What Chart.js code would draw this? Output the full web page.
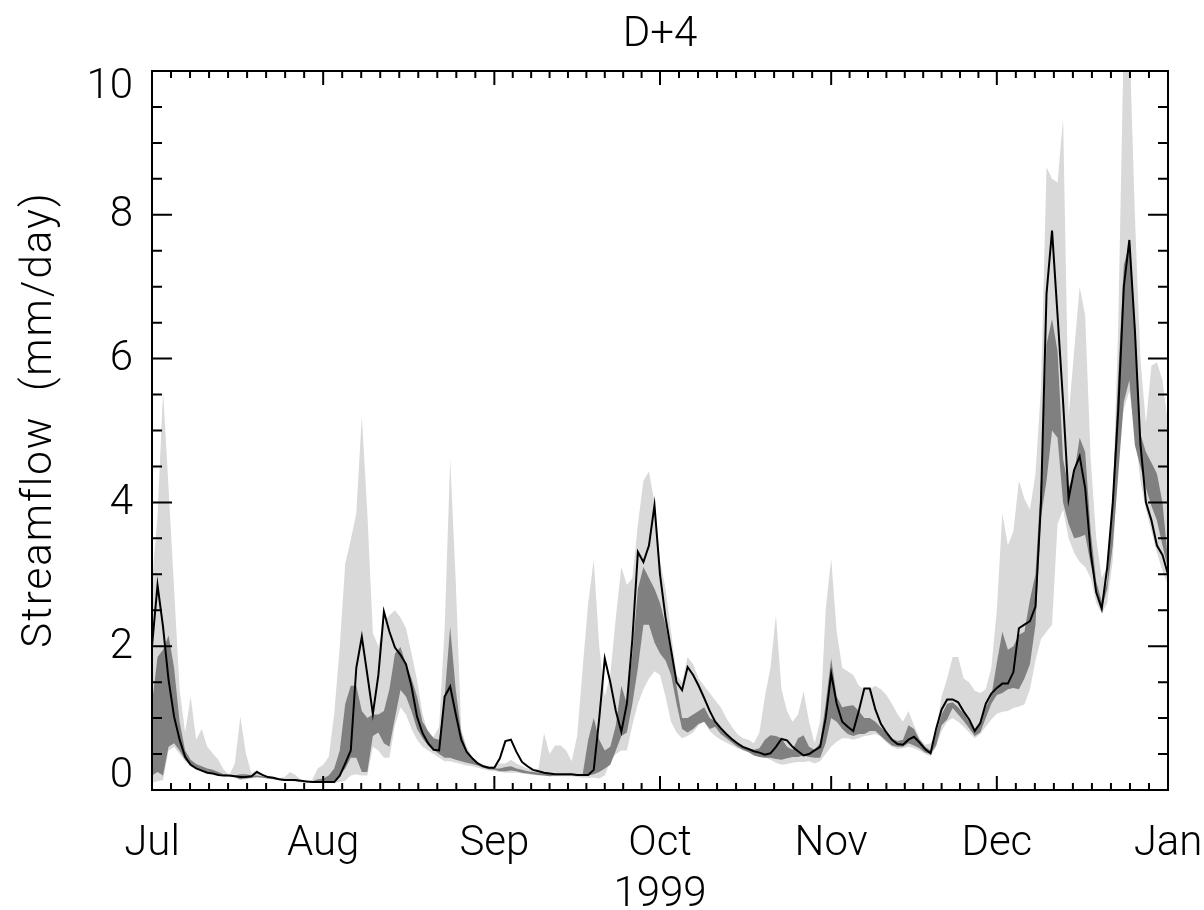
<!DOCTYPE html>
<html>
<head>
<meta charset="utf-8">
<title>D+4 streamflow</title>
<script src="https://cdn.jsdelivr.net/npm/chart.js@4.4.0/dist/chart.umd.min.js"></script>
<style>
  html, body { margin: 0; padding: 0; background: #ffffff; }
  #wrap { width: 1204px; height: 910px; }
</style>
</head>
<body>
<div id="wrap"><canvas id="chart" width="1204" height="910"></canvas></div>
<script>
// Day index 0 = 1 Jul 1999, 184 = 1 Jan 2000
const monthStarts = [0, 31, 62, 92, 123, 153, 184];
const monthLabels = ['Jul', 'Aug', 'Sep', 'Oct', 'Nov', 'Dec', 'Jan'];
const yTickValues = [0, 2, 4, 6, 8, 10];
const chartTitle = 'D+4';
const xTitle = '1999';
const yTitle = 'Streamflow  (mm/day)';

// Observed streamflow (mm/day)
const observed = [
  2.00, 2.85, 2.27, 1.53, 1.02, 0.70, 0.46, 0.35, 0.30, 0.27,
  0.24, 0.23, 0.21, 0.20, 0.20, 0.19, 0.18, 0.18, 0.19, 0.25,
  0.21, 0.18, 0.17, 0.15, 0.14, 0.14, 0.14, 0.13, 0.12, 0.11,
  0.11, 0.11, 0.11, 0.11, 0.20, 0.37, 0.55, 1.70, 2.13, 1.60,
  1.06, 1.60, 2.48, 2.20, 1.98, 1.88, 1.75, 1.44, 1.02, 0.79,
  0.65, 0.56, 0.55, 1.30, 1.44, 1.06, 0.70, 0.53, 0.44, 0.37,
  0.33, 0.31, 0.31, 0.44, 0.68, 0.70, 0.53, 0.39, 0.33, 0.28,
  0.26, 0.24, 0.23, 0.22, 0.22, 0.22, 0.22, 0.21, 0.21, 0.21,
  0.28, 1.00, 1.83, 1.50, 1.10, 0.81, 1.20, 2.10, 3.31, 3.17,
  3.40, 3.96, 3.00, 2.40, 1.95, 1.50, 1.39, 1.71, 1.60, 1.45,
  1.28, 1.10, 0.95, 0.86, 0.78, 0.71, 0.65, 0.60, 0.57, 0.54,
  0.52, 0.49, 0.51, 0.60, 0.71, 0.69, 0.60, 0.54, 0.48, 0.50,
  0.55, 0.60, 1.00, 1.62, 1.20, 0.95, 0.88, 0.82, 1.10, 1.41,
  1.41, 1.12, 0.92, 0.80, 0.70, 0.64, 0.63, 0.70, 0.74, 0.66,
  0.57, 0.51, 0.85, 1.12, 1.26, 1.26, 1.22, 1.09, 0.98, 0.82,
  0.93, 1.20, 1.34, 1.42, 1.48, 1.48, 1.64, 2.25, 2.30, 2.35,
  2.55, 4.00, 6.90, 7.78, 6.60, 5.40, 4.05, 4.45, 4.64, 4.20,
  3.30, 2.75, 2.52, 3.10, 4.00, 5.30, 7.00, 7.65, 6.40, 4.82,
  4.00, 3.75, 3.40, 3.27, 3.00
];

// Ensemble forecast envelope: maximum member
const ensMax = [
  2.90, 3.80, 5.55, 4.20, 2.80, 1.40, 0.80, 1.30, 0.70, 0.85,
  0.60, 0.51, 0.42, 0.28, 0.21, 0.37, 1.02, 0.51, 0.23, 0.28,
  0.21, 0.18, 0.17, 0.16, 0.18, 0.25, 0.21, 0.14, 0.12, 0.14,
  0.30, 0.35, 0.46, 1.06, 1.99, 3.15, 3.48, 3.85, 5.20, 3.85,
  2.18, 2.00, 2.33, 2.43, 2.50, 2.40, 2.25, 1.90, 1.53, 1.06,
  0.79, 0.74, 0.88, 2.25, 4.60, 2.92, 0.84, 0.60, 0.46, 0.39,
  0.35, 0.33, 0.33, 0.37, 0.37, 0.42, 0.37, 0.33, 0.30, 0.28,
  0.30, 0.79, 0.50, 0.62, 0.62, 0.55, 0.40, 0.75, 1.70, 2.60,
  3.20, 2.00, 1.30, 1.60, 2.40, 3.10, 2.85, 2.95, 3.70, 4.30,
  4.43, 4.00, 3.20, 2.80, 2.20, 1.60, 1.50, 1.85, 1.75, 1.55,
  1.45, 1.35, 1.25, 1.15, 1.00, 0.88, 0.78, 0.72, 0.70, 0.65,
  0.80, 1.30, 1.70, 2.43, 1.40, 1.10, 0.95, 1.05, 1.37, 0.95,
  0.65, 0.95, 2.50, 3.22, 2.20, 1.70, 1.65, 1.60, 1.45, 1.40,
  1.40, 1.45, 1.40, 1.32, 1.20, 1.06, 0.95, 1.10, 0.90, 0.72,
  0.63, 0.65, 0.80, 1.30, 1.55, 1.85, 1.85, 1.55, 1.50, 1.38,
  1.35, 1.40, 1.70, 2.50, 3.85, 3.40, 3.60, 4.30, 4.05, 3.90,
  4.40, 5.60, 8.66, 8.50, 8.45, 9.34, 5.20, 6.10, 7.00, 6.60,
  4.60, 3.50, 2.95, 3.10, 4.00, 6.50, 10.50, 10.50, 8.00, 6.00,
  5.10, 5.90, 5.95, 5.70, 5.10
];

// Ensemble forecast envelope: minimum member
const ensMin = [
  0.10, 0.12, 0.14, 0.55, 0.60, 0.50, 0.40, 0.33, 0.29, 0.26,
  0.24, 0.22, 0.20, 0.19, 0.18, 0.17, 0.14, 0.15, 0.16, 0.17,
  0.17, 0.16, 0.15, 0.14, 0.13, 0.13, 0.12, 0.11, 0.10, 0.10,
  0.10, 0.10, 0.10, 0.10, 0.11, 0.13, 0.20, 0.22, 0.20, 0.20,
  0.60, 0.55, 0.45, 0.45, 0.90, 1.15, 1.05, 0.85, 0.70, 0.60,
  0.55, 0.50, 0.45, 0.40, 0.40, 0.38, 0.36, 0.34, 0.33, 0.31,
  0.29, 0.27, 0.26, 0.25, 0.24, 0.24, 0.24, 0.23, 0.22, 0.21,
  0.20, 0.20, 0.19, 0.19, 0.19, 0.19, 0.19, 0.18, 0.17, 0.17,
  0.17, 0.16, 0.20, 0.40, 0.50, 0.55, 0.55, 0.90, 1.20, 1.40,
  1.55, 1.65, 1.60, 1.30, 0.95, 0.80, 0.72, 0.75, 0.80, 0.90,
  0.95, 0.82, 0.75, 0.70, 0.66, 0.62, 0.58, 0.55, 0.52, 0.50,
  0.49, 0.46, 0.42, 0.38, 0.35, 0.36, 0.38, 0.39, 0.39, 0.40,
  0.37, 0.40, 0.50, 0.60, 0.67, 0.72, 0.72, 0.70, 0.72, 0.75,
  0.76, 0.78, 0.74, 0.66, 0.60, 0.57, 0.58, 0.60, 0.58, 0.55,
  0.50, 0.47, 0.60, 0.82, 0.95, 1.00, 0.95, 0.88, 0.80, 0.72,
  0.78, 0.88, 0.98, 1.06, 1.09, 1.10, 1.14, 1.16, 1.19, 1.40,
  1.80, 2.10, 2.20, 2.30, 3.70, 3.90, 3.50, 3.30, 3.17, 3.10,
  2.95, 2.60, 2.45, 2.60, 3.20, 4.70, 5.30, 5.55, 5.00, 4.30,
  3.90, 3.60, 3.30, 3.05, 2.85
];

// Ensemble inter-quartile range: upper quartile
const q75 = [
  1.20, 1.85, 1.95, 2.15, 1.70, 0.95, 0.55, 0.42, 0.36, 0.33,
  0.30, 0.28, 0.25, 0.22, 0.21, 0.20, 0.22, 0.22, 0.20, 0.20,
  0.19, 0.18, 0.17, 0.16, 0.15, 0.15, 0.14, 0.13, 0.12, 0.12,
  0.15, 0.16, 0.20, 0.30, 0.55, 1.20, 1.45, 1.45, 1.10, 1.00,
  1.05, 1.05, 1.10, 1.40, 1.90, 1.99, 1.75, 1.55, 1.30, 0.95,
  0.82, 0.72, 0.70, 1.30, 2.27, 1.40, 0.80, 0.55, 0.45, 0.38,
  0.34, 0.32, 0.30, 0.30, 0.32, 0.33, 0.30, 0.28, 0.26, 0.25,
  0.24, 0.23, 0.22, 0.22, 0.22, 0.22, 0.22, 0.22, 0.22, 0.70,
  1.00, 0.70, 0.55, 0.60, 0.90, 1.45, 1.20, 1.90, 2.80, 3.10,
  2.95, 2.80, 2.60, 2.30, 1.90, 1.45, 1.00, 1.00, 1.05, 1.10,
  1.15, 1.00, 0.96, 0.87, 0.79, 0.72, 0.66, 0.61, 0.58, 0.56,
  0.58, 0.70, 0.76, 0.75, 0.72, 0.60, 0.56, 0.72, 0.76, 0.60,
  0.56, 0.65, 1.20, 1.83, 1.30, 1.15, 1.17, 1.18, 1.10, 1.00,
  1.00, 0.95, 0.87, 0.80, 0.72, 0.68, 0.70, 0.90, 0.85, 0.70,
  0.60, 0.55, 0.80, 1.05, 1.20, 1.22, 1.15, 1.06, 0.95, 0.85,
  0.95, 1.15, 1.30, 1.77, 2.20, 1.95, 2.00, 2.16, 2.20, 2.65,
  3.00, 4.30, 6.20, 6.55, 6.10, 4.60, 4.20, 4.40, 4.90, 4.70,
  3.60, 2.90, 2.62, 2.90, 4.10, 5.80, 7.30, 7.60, 6.40, 4.95,
  4.70, 4.55, 4.40, 4.00, 3.20
];

// Ensemble inter-quartile range: lower quartile
const q25 = [
  0.20, 0.25, 0.20, 0.60, 0.65, 0.55, 0.42, 0.34, 0.30, 0.27,
  0.25, 0.23, 0.21, 0.20, 0.19, 0.18, 0.15, 0.16, 0.17, 0.18,
  0.17, 0.16, 0.15, 0.14, 0.13, 0.13, 0.12, 0.11, 0.10, 0.10,
  0.11, 0.11, 0.11, 0.12, 0.20, 0.30, 0.45, 0.45, 0.25, 0.25,
  0.75, 0.80, 0.65, 0.60, 1.00, 1.39, 1.30, 1.10, 0.85, 0.72,
  0.62, 0.56, 0.50, 0.45, 0.45, 0.42, 0.40, 0.38, 0.36, 0.34,
  0.31, 0.29, 0.28, 0.26, 0.26, 0.27, 0.26, 0.24, 0.23, 0.22,
  0.21, 0.20, 0.19, 0.20, 0.20, 0.20, 0.20, 0.20, 0.20, 0.20,
  0.22, 0.25, 0.30, 0.35, 0.55, 0.75, 0.80, 1.20, 1.70, 2.30,
  2.30, 2.05, 1.90, 1.80, 1.60, 1.20, 0.85, 0.80, 0.85, 0.92,
  0.95, 0.85, 0.88, 0.78, 0.72, 0.66, 0.60, 0.56, 0.53, 0.48,
  0.46, 0.45, 0.45, 0.43, 0.42, 0.44, 0.46, 0.46, 0.48, 0.46,
  0.45, 0.45, 0.65, 1.00, 0.95, 0.85, 0.78, 0.75, 0.78, 0.78,
  0.82, 0.82, 0.75, 0.68, 0.62, 0.60, 0.60, 0.65, 0.62, 0.58,
  0.52, 0.50, 0.62, 0.90, 0.98, 1.14, 1.05, 0.96, 0.86, 0.75,
  0.80, 1.00, 1.20, 1.32, 1.35, 1.40, 1.42, 1.40, 1.55, 1.75,
  2.30, 3.80, 4.30, 5.00, 4.90, 4.00, 3.70, 3.50, 3.52, 3.55,
  3.14, 2.80, 2.52, 2.80, 3.40, 4.40, 5.40, 5.70, 4.80, 4.50,
  4.20, 3.95, 3.75, 3.40, 3.07
];

const FONT_FAMILY = 'Roboto, "DejaVu Sans", sans-serif';
const FONT_WEIGHT = '300';
const FONT_SIZE = 42;
const FONT_CSS = FONT_WEIGHT + ' ' + FONT_SIZE + 'px ' + FONT_FAMILY;

const toPoints = arr => arr.map((v, i) => ({ x: i, y: v }));

// Box frame, inward tick marks on all four sides, y labels kept inside the axis span,
// and the spaced-out vertical axis title
const framePlugin = {
  id: 'idlFrame',
  afterDraw(chart) {
    const { ctx, chartArea: a, scales } = chart;
    const xs = scales.x, ys = scales.y;
    ctx.save();
    ctx.strokeStyle = '#000';
    ctx.lineWidth = 2;
    ctx.lineCap = 'butt';
    ctx.beginPath();
    const xMajor = 14, xMinor = 7, yMajor = 20, yMinor = 10;
    for (let m = 0; m < monthStarts.length; m++) {
      const px = xs.getPixelForValue(monthStarts[m]);
      ctx.moveTo(px, a.bottom); ctx.lineTo(px, a.bottom - xMajor);
      ctx.moveTo(px, a.top); ctx.lineTo(px, a.top + xMajor);
      if (m < monthStarts.length - 1) {
        const span = monthStarts[m + 1] - monthStarts[m];
        for (let k = 1; k < 9; k++) {
          const p = xs.getPixelForValue(monthStarts[m] + span * k / 9);
          ctx.moveTo(p, a.bottom); ctx.lineTo(p, a.bottom - xMinor);
          ctx.moveTo(p, a.top); ctx.lineTo(p, a.top + xMinor);
        }
      }
    }
    for (let i = 0; i <= 20; i++) {
      const v = i * 0.5;
      const py = ys.getPixelForValue(v);
      const len = (i % 4 === 0) ? yMajor : yMinor;
      ctx.moveTo(a.left, py); ctx.lineTo(a.left + len, py);
      ctx.moveTo(a.right, py); ctx.lineTo(a.right - len, py);
    }
    ctx.stroke();
    ctx.strokeRect(a.left, a.top, a.right - a.left, a.bottom - a.top);

    ctx.fillStyle = '#000';
    ctx.font = FONT_CSS;
    ctx.textAlign = 'right';
    ctx.textBaseline = 'middle';
    const half = 15;
    yTickValues.forEach(v => {
      let py = ys.getPixelForValue(v);
      py = Math.min(Math.max(py, a.top + half), a.bottom - half);
      ctx.fillText(String(v), a.left - 19, py + 1);
    });

    ctx.translate(40, (a.top + a.bottom) / 2 - 11);
    ctx.rotate(-Math.PI / 2);
    ctx.letterSpacing = '2px';
    ctx.textAlign = 'center';
    ctx.fillText(yTitle, 0, 0);
    ctx.restore();
  }
};

const ctx = document.getElementById('chart').getContext('2d');
new Chart(ctx, {
  type: 'line',
  data: {
    datasets: [
      { label: 'Ensemble max', data: toPoints(ensMax), fill: '+1', backgroundColor: '#d9d9d9',
        borderColor: 'rgba(0,0,0,0)', borderWidth: 0, pointRadius: 0, tension: 0, order: 3 },
      { label: 'Ensemble min', data: toPoints(ensMin), fill: false,
        borderColor: 'rgba(0,0,0,0)', borderWidth: 0, pointRadius: 0, tension: 0, order: 3 },
      { label: 'Upper quartile', data: toPoints(q75), fill: '+1', backgroundColor: '#808080',
        borderColor: 'rgba(0,0,0,0)', borderWidth: 0, pointRadius: 0, tension: 0, order: 2 },
      { label: 'Lower quartile', data: toPoints(q25), fill: false,
        borderColor: 'rgba(0,0,0,0)', borderWidth: 0, pointRadius: 0, tension: 0, order: 2 },
      { label: 'Observed', data: toPoints(observed), fill: false,
        borderColor: '#000000', borderWidth: 2, pointRadius: 0, tension: 0, order: 1 }
    ]
  },
  options: {
    responsive: false,
    animation: false,
    events: [],
    layout: { padding: { left: 0, right: 36, top: 0, bottom: 0 } },
    plugins: {
      legend: { display: false },
      tooltip: { enabled: false },
      title: {
        display: true,
        text: chartTitle,
        fullSize: false,
        color: '#000',
        font: { family: FONT_FAMILY, size: FONT_SIZE, weight: FONT_WEIGHT, lineHeight: 1.2 },
        padding: { top: 10, bottom: 10.6 }
      }
    },
    scales: {
      x: {
        type: 'linear',
        min: 0,
        max: 184,
        afterBuildTicks: scale => { scale.ticks = monthStarts.map(v => ({ value: v })); },
        afterFit: scale => {
          scale.height = 120;
          scale.paddingLeft = 0;
          scale.paddingRight = 0;
        },
        grid: { display: false, drawTicks: false },
        border: { display: false },
        ticks: {
          autoSkip: false,
          maxRotation: 0,
          padding: 29,
          color: '#000',
          font: { family: FONT_FAMILY, size: FONT_SIZE, weight: FONT_WEIGHT, lineHeight: 1.2 },
          callback: v => monthLabels[monthStarts.indexOf(v)]
        },
        title: {
          display: true,
          text: xTitle,
          color: '#000',
          font: { family: FONT_FAMILY, size: FONT_SIZE, weight: FONT_WEIGHT, lineHeight: 1.2 },
          padding: { top: 0, bottom: -11 }
        }
      },
      y: {
        type: 'linear',
        min: 0,
        max: 10,
        afterBuildTicks: scale => { scale.ticks = yTickValues.map(v => ({ value: v })); },
        afterFit: scale => { scale.width = 152; },
        grid: { display: false, drawTicks: false },
        border: { display: false },
        ticks: { display: false },
        title: { display: false }
      }
    }
  },
  plugins: [framePlugin]
});
</script>
</body>
</html>
